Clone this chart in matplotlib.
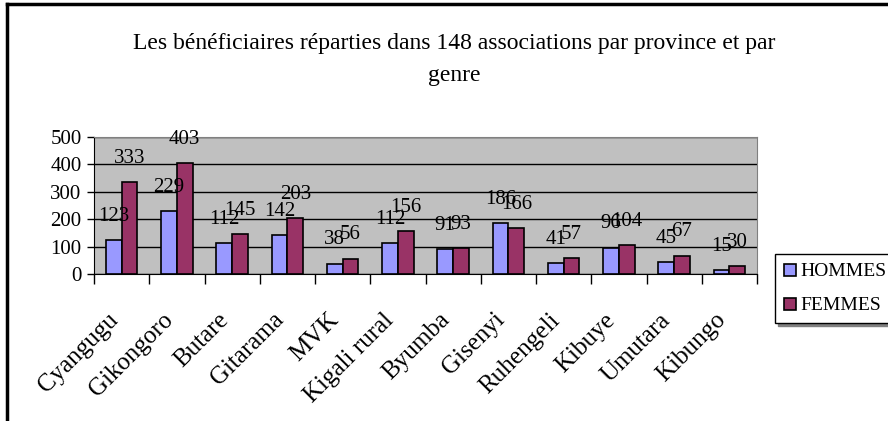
import numpy as np
import matplotlib.pyplot as plt
from matplotlib.lines import Line2D

# Data
provinces = ["Cyangugu", "Gikongoro", "Butare", "Gitarama", "MVK", "Kigali rural",
             "Byumba", "Gisenyi", "Ruhengeli", "Kibuye", "Umutara", "Kibungo"]
hommes = [123, 229, 112, 142, 38, 112, 91, 186, 41, 96, 45, 15]
femmes = [333, 403, 145, 203, 56, 156, 93, 166, 57, 104, 67, 30]
yticks = [0, 100, 200, 300, 400, 500]

plt.rcParams['font.family'] = ['Liberation Serif', 'DejaVu Serif']

fig = plt.figure(figsize=(8.88, 4.21), dpi=100)
ax = fig.add_axes([94 / 888, 147 / 421, 663 / 888, 137.5 / 421])

x = np.arange(len(provinces))
w = 0.286
b1 = ax.bar(x - w / 2, hommes, w, color='#9999FF', edgecolor='black', linewidth=1.2, zorder=3)
b2 = ax.bar(x + w / 2, femmes, w, color='#993366', edgecolor='black', linewidth=1.2, zorder=3)

for rect, v in list(zip(b1, hommes)) + list(zip(b2, femmes)):
    ax.annotate(str(v), (rect.get_x() + rect.get_width() / 2, v),
                xytext=(0, 17), textcoords='offset points',
                ha='center', va='center', fontsize=15, zorder=4)

ax.set_xlim(-0.5, len(provinces) - 0.5)
ax.set_ylim(0, 500)
ax.set_yticks(yticks)
ax.set_facecolor('#C0C0C0')
ax.grid(axis='y', color='black', linewidth=1, zorder=1)
ax.tick_params(axis='y', labelsize=15, length=5, width=1, pad=4)

ax.set_xticks(np.arange(len(provinces) + 1) - 0.5)
ax.set_xticklabels([])
ax.tick_params(axis='x', length=7, width=1)
for i, name in enumerate(provinces):
    ax.text(i - 0.13, -0.31, name, transform=ax.get_xaxis_transform(),
            rotation=45, rotation_mode='anchor', ha='right', va='center', fontsize=18)

for s in ['top', 'right']:
    ax.spines[s].set_color('#808080')
for s in ['left', 'bottom']:
    ax.spines[s].set_color('black')

fig.text(0.512, 1 - 43 / 421, "Les bénéficiaires réparties dans 148 associations par province et par",
         ha='center', va='center', fontsize=17)
fig.text(0.512, 1 - 75 / 421, "genre", ha='center', va='center', fontsize=17)

handles = [Line2D([], [], marker='s', linestyle='none', markersize=9,
                  markerfacecolor=c, markeredgecolor='black', markeredgewidth=1.2)
           for c in ['#9999FF', '#993366']]
leg = fig.legend(handles, ['HOMMES', 'FEMMES'], loc='upper left',
                 bbox_to_anchor=(775 / 888, 1 - 254 / 421), frameon=True,
                 fontsize=14, handlelength=0.6, handletextpad=0.25,
                 labelspacing=0.85, borderpad=0.45, borderaxespad=0,
                 fancybox=False, shadow={'color': '#808080', 'alpha': 1.0})
leg.get_frame().set_edgecolor('black')
leg.get_frame().set_linewidth(1)

# outer border (left and top only)
fig.add_artist(Line2D([7 / 888, 7 / 888], [0, 1 - 4 / 421], color='black', linewidth=2.5,
                      transform=fig.transFigure))
fig.add_artist(Line2D([7 / 888, 1], [1 - 4 / 421, 1 - 4 / 421], color='black', linewidth=2.5,
                      transform=fig.transFigure))

fig.savefig('out.png', dpi=100)
